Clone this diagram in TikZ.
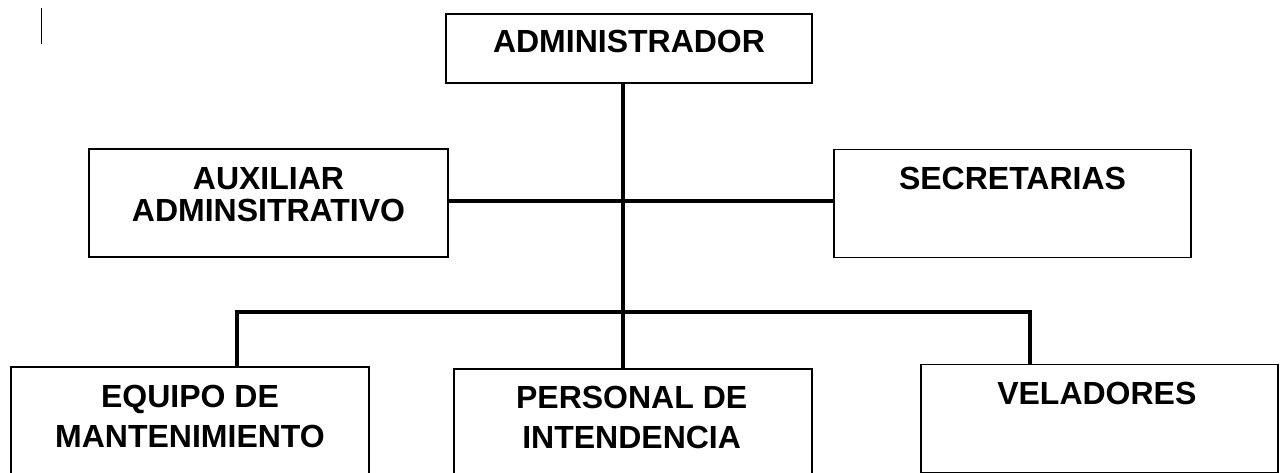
\documentclass[tikz,border=0pt]{standalone}
\usepackage{fontspec}
\setmainfont{Liberation Sans}
\usetikzlibrary{positioning}

\begin{document}
\begin{tikzpicture}[x=0.75pt, y=-0.75pt,
        unit/.style={draw, line width=1.3pt, minimum width=268pt, minimum height=81pt, inner sep=0pt},
        caption/.style={inner sep=0pt, align=center, font={\fontsize{24}{24}\selectfont\bfseries}},
        wide/.style={font={\fontsize{24}{30}\selectfont\bfseries}},
        link/.style={line width=2.5pt}]

            \clip (0,0) rectangle (1282,473);
            \fill[white] (0,0) rectangle (1282,473);

            \draw[line width=1.1pt] (41.5,8) -- (41.5,44);

            \node[unit, minimum width=274.5pt, minimum height=51.75pt] (admin) at (629,48.5) {};
            \node[unit, minimum width=269.25pt] (aux) at (268.5,203) {};
            \node[unit] (sec) at (1012.5,203.5) {};
            \node[unit, minimum height=84pt] (equipo) at (190,423) {};
            \node[unit, minimum height=84pt] (personal) at (633,425) {};
            \node[unit] (veladores) at (1099.5,418.5) {};

            \node[caption, below=12.5pt of admin.north] (admintext) {ADMINISTRADOR};
            \node[caption, below=14pt of aux.north] (auxtext) {AUXILIAR\\ADMINSITRATIVO};
            \node[caption, below=13.5pt of sec.north] (sectext) {SECRETARIAS};
            \node[caption, wide, below=14pt of equipo.north] (equipotext) {EQUIPO DE\\MANTENIMIENTO};
            \node[caption, wide, below=13.5pt of personal.north, xshift=-1pt] (personaltext) {PERSONAL DE\\INTENDENCIA};
            \node[caption, below=13.5pt of veladores.north, xshift=-2pt] (veladorestext) {VELADORES};

            \coordinate (spine) at (623,312);
            \coordinate (middle) at (623,201);
            \coordinate (left) at (237,312);
            \coordinate (right) at (1030,312);

            \draw[link] (admin.south -| spine) -- (personal.north -| spine);
            \draw[link] (aux.east |- middle) -- (sec.west |- middle);
            \draw[link] (equipo.north -| left) -- (left) -- (right) -- (veladores.north -| right);

        \end{tikzpicture}
\end{document}
